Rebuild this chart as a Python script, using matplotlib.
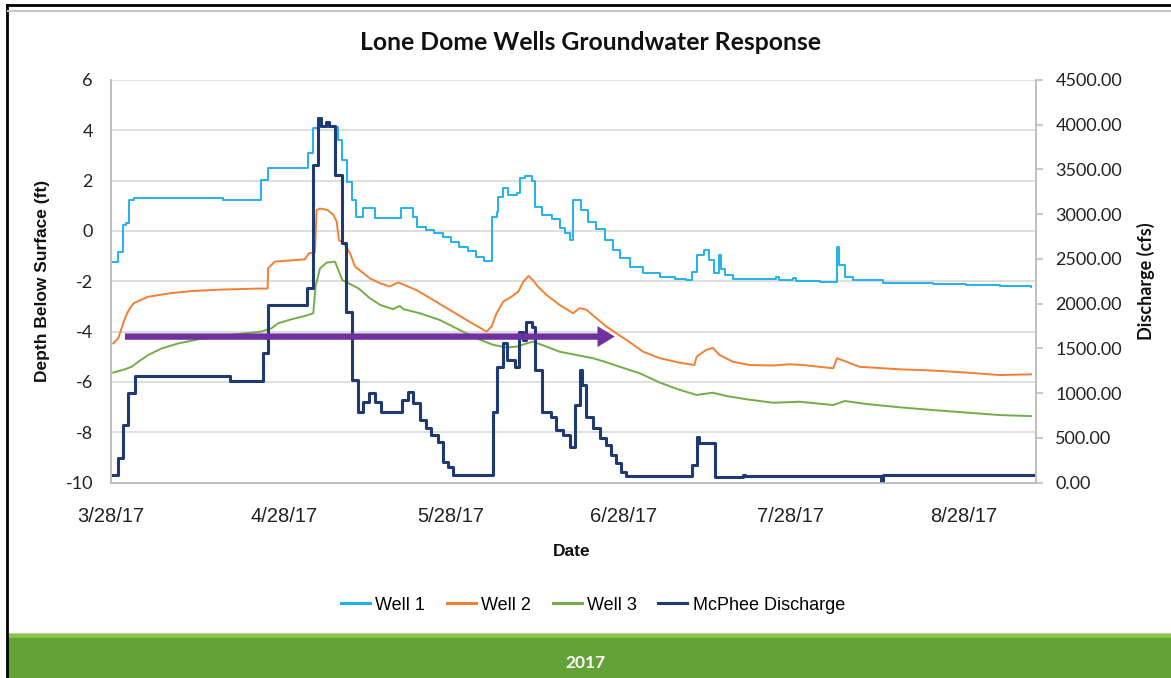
import numpy as np
import pandas as pd
import matplotlib
matplotlib.use("Agg")
import matplotlib.pyplot as plt
import matplotlib.dates as mdates
from matplotlib.lines import Line2D
from matplotlib.patches import Rectangle

# ---- data: days after 3/28/17 ----
start = pd.Timestamp("2017-03-28")

well1_days = [0.4, 1.3, 2.2, 2.7, 3.3, 4.1, 20.1, 27.0, 28.2, 35.4, 36.3, 37.1, 40.8, 41.4,
              42.3, 43.2, 43.9, 45.3, 47.4, 52.1, 54.2, 54.9, 56.5, 58.0, 59.5, 61.0, 62.5,
              64.0, 65.5, 67.0, 68.3, 69.2, 69.5, 70.4, 71.3, 72.8, 73.4, 74.3, 75.5, 76.1,
              77.3, 79.1, 80.5, 81.4, 82.3, 82.9, 84.4, 85.6, 87.0, 88.6, 90.1, 91.3, 93.1,
              95.5, 98.5, 101.2, 103.1, 104.3, 105.2, 106.5, 107.4, 108.3, 109.1, 109.4,
              110.1, 111.6, 119.3, 119.8, 122.4, 123.0, 127.2, 130.3, 130.6, 131.7, 133.1,
              138.5, 147.5, 153.4, 159.5, 165.1]
well1_ft = [-1.22, -0.82, 0.24, 0.30, 1.23, 1.30, 1.23, 2.03, 2.49, 3.09, 4.08, 4.15, 3.62, 2.82,
            1.96, 1.23, 0.57, 0.90, 0.50, 0.90, 0.57, 0.17, 0.05, -0.10, -0.25, -0.45, -0.62,
            -0.80, -1.02, -1.20, 0.57, 0.77, 1.36, 1.70, 1.43, 1.50, 2.10, 2.20, 1.97, 0.97,
            0.64, 0.46, 0.10, -0.10, -0.36, 1.23, 0.83, 0.37, 0.07, -0.36, -0.75, -1.09, -1.42,
            -1.66, -1.82, -1.90, -1.95, -1.62, -0.95, -0.75, -1.15, -1.68, -0.95, -1.50,
            -1.75, -1.92, -1.82, -1.95, -1.86, -1.98, -2.02, -0.65, -1.35, -1.82, -1.95,
            -2.05, -2.11, -2.15, -2.19, -2.24]

well2_days = [0.4, 0.9, 1.3, 1.8, 2.3, 2.9, 3.4, 4.1, 6.6, 10.8, 14.5, 19.9, 26.7, 28.1, 28.2,
              29.4, 34.8, 35.5, 36.6, 36.9, 37.5, 38.9, 39.9, 40.5, 40.9, 41.8, 42.9, 43.8,
              45.3, 46.5, 48.3, 50.0, 51.5, 52.7, 54.8, 57.8, 60.8, 63.8, 67.4, 68.3, 69.2,
              70.4, 71.9, 73.1, 74.0, 74.9, 75.7, 76.6, 78.2, 80.5, 82.9, 84.1, 85.3, 87.1,
              88.9, 90.7, 92.5, 95.5, 98.5, 102.1, 104.7, 105.1, 106.8, 108.0, 109.2, 111.6,
              114.6, 118.8, 121.8, 124.2, 129.6, 130.3, 132.0, 134.3, 141.5, 147.5, 153.5,
              159.5, 165.1]
well2_ft = [-4.47, -4.35, -4.27, -3.94, -3.60, -3.27, -3.07, -2.87, -2.62, -2.47, -2.39, -2.33,
            -2.29, -2.29, -1.48, -1.22, -1.13, -0.89, -0.85, 0.83, 0.89, 0.83, 0.64, 0.37,
            -0.36, -0.50, -0.89, -1.42, -1.68, -1.89, -2.08, -2.21, -2.05, -2.15, -2.35,
            -2.74, -3.14, -3.54, -4.00, -3.80, -3.27, -2.81, -2.61, -2.41, -2.02, -1.79,
            -1.95, -2.21, -2.55, -2.94, -3.27, -3.07, -3.13, -3.47, -3.80, -4.07, -4.33,
            -4.80, -5.06, -5.24, -5.33, -5.00, -4.73, -4.65, -4.93, -5.20, -5.33, -5.35,
            -5.30, -5.33, -5.46, -5.06, -5.20, -5.40, -5.50, -5.55, -5.63, -5.73, -5.70]

well3_days = [0.4, 2.5, 3.7, 4.9, 6.7, 9.1, 12.1, 15.6, 19.9, 24.0, 27.0, 28.8, 30.0, 32.4, 34.8,
              36.3, 36.7, 37.5, 38.7, 40.2, 40.8, 41.5, 42.6, 44.4, 46.5, 48.3, 50.6, 51.8,
              52.5, 55.4, 59.0, 62.6, 65.6, 68.6, 71.0, 72.8, 74.6, 75.7, 78.2, 80.5, 83.5,
              86.5, 88.6, 91.3, 94.9, 98.5, 102.1, 105.1, 108.0, 110.4, 114.0, 118.8, 123.6,
              129.6, 131.7, 135.6, 141.5, 147.5, 153.5, 159.5, 165.1]
well3_ft = [-5.63, -5.50, -5.40, -5.20, -4.93, -4.67, -4.47, -4.31, -4.18, -4.07, -4.00, -3.87,
            -3.67, -3.51, -3.38, -3.27, -2.21, -1.49, -1.26, -1.22, -1.55, -1.95, -2.08,
            -2.28, -2.68, -2.94, -3.11, -2.98, -3.11, -3.27, -3.54, -3.94, -4.27, -4.53,
            -4.63, -4.60, -4.47, -4.40, -4.60, -4.80, -4.93, -5.06, -5.20, -5.40, -5.66,
            -6.03, -6.32, -6.52, -6.43, -6.56, -6.69, -6.83, -6.79, -6.92, -6.76, -6.88,
            -7.01, -7.12, -7.22, -7.32, -7.36]

mcphee_days = [0.4, 1.3, 2.2, 3.1, 4.3, 21.3, 27.3, 28.2, 35.1, 36.3, 37.2, 37.7, 38.6, 39.1,
               40.2, 41.4, 42.2, 43.2, 44.3, 45.3, 46.3, 47.4, 48.4, 52.2, 53.3, 54.2, 55.4,
               56.6, 57.5, 58.7, 59.6, 60.5, 61.4, 68.6, 69.2, 70.4, 71.0, 72.5, 73.2, 74.0,
               74.4, 75.5, 76.1, 77.3, 79.0, 79.9, 81.1, 82.3, 83.2, 84.1, 84.5, 85.3, 86.5,
               87.7, 88.9, 89.8, 90.7, 91.6, 92.5, 104.2, 105.1, 105.5, 108.4, 113.4, 113.7,
               138.1, 138.5, 165.4]
mcphee_cfs = [84, 270, 643, 997, 1190, 1138, 1444, 1984, 2171, 3550, 4072, 3985, 4030, 3985,
              3438, 2674, 1910, 1146, 792, 903, 997, 903, 792, 922, 1015, 885, 699,
              606, 531, 456, 233, 177, 84, 792, 1295, 1556, 1370, 1295, 1686, 1593,
              1798, 1742, 1258, 792, 736, 587, 531, 400, 866, 1258, 1090, 736, 606,
              494, 419, 307, 214, 121, 73, 196, 512, 445, 65, 88, 75,
              10, 80, 80]

tick_days = [0, 31, 61, 92, 122, 153]
tick_labels = ["3/28/17", "4/28/17", "5/28/17", "6/28/17", "7/28/17", "8/28/17"]
left_ticks = [6, 4, 2, 0, -2, -4, -6, -8, -10]
right_ticks = [0, 500, 1000, 1500, 2000, 2500, 3000, 3500, 4000, 4500]

arrow_days = [2.5, 90.4]
arrow_ft = -4.2


def to_dates(days):
    return start + pd.to_timedelta(np.array(days, dtype=float), unit="D")


W, H = 1171, 678


def fx(x):
    return x / W


def fy(y):
    return 1 - y / H


c1, c2, c3, c4 = "#21B1EC", "#F37F34", "#72AE48", "#1F3A72"
calibri = ["Lato", "DejaVu Sans"]
arial = ["Liberation Sans", "DejaVu Sans"]

fig = plt.figure(figsize=(W / 100, H / 100), dpi=100)
ax = fig.add_axes([fx(111), fy(482.5), fx(1036) - fx(111), fy(80) - fy(482.5)])
ax2 = ax.twinx()

ax.plot(to_dates(well1_days), well1_ft, drawstyle="steps-post", color=c1, lw=1.4)
ax.plot(to_dates(well2_days), well2_ft, color=c2, lw=1.4)
ax.plot(to_dates(well3_days), well3_ft, color=c3, lw=1.4)
ax2.plot(to_dates(mcphee_days), mcphee_cfs, drawstyle="steps-post", color=c4, lw=2.2)

ax.set_xlim(to_dates([0])[0], to_dates([166])[0])
ax.set_ylim(-10, 6)
ax2.set_ylim(0, 4500)
ax.set_xticks(to_dates(tick_days))
ax.set_xticklabels(tick_labels, fontfamily=arial, fontsize=14.5)
ax.set_yticks(left_ticks)
ax.set_yticklabels([str(v) for v in left_ticks], fontfamily=calibri, fontsize=13)
ax2.set_yticks(right_ticks)
ax2.set_yticklabels([f"{v:.2f}" for v in right_ticks], fontfamily=calibri, fontsize=13)

ax.grid(axis="y", color="#D9D9D9", lw=1.2)
ax.set_axisbelow(True)
for a in (ax, ax2):
    a.spines["top"].set_visible(False)
    for s in ("left", "right", "bottom"):
        a.spines[s].set_color("#BFBFBF")
        a.spines[s].set_linewidth(1.2)
ax.tick_params(axis="x", length=0, pad=18, colors="#222222")
ax.tick_params(axis="y", length=0, pad=13, colors="#222222")
ax2.tick_params(axis="y", length=5, width=1.2, color="#BFBFBF", pad=9, labelcolor="#222222")

# purple arrow
a0, a1 = mdates.date2num(to_dates(arrow_days))
ax2.annotate("", xy=(a1, arrow_ft), xytext=(a0, arrow_ft),
             xycoords=ax.transData, textcoords=ax.transData,
             arrowprops=dict(arrowstyle="simple,head_length=0.62,head_width=0.75,tail_width=0.23",
                             fc="#7030A0", ec="none", lw=0, mutation_scale=20,
                             shrinkA=0, shrinkB=0))

# texts
fig.text(fx(591), fy(42), "Lone Dome Wells Groundwater Response", ha="center", va="center",
         fontsize=17.8, fontweight="bold", family=calibri, color="#111111")
fig.text(fx(43), fy(281), "Depth Below Surface (ft)", rotation=90, ha="center", va="center",
         fontsize=12.5, fontweight="bold", family=arial, color="#111111")
fig.text(fx(1146), fy(281), "Discharge (cfs)", rotation=90, ha="center", va="center",
         fontsize=13, fontweight="bold", family=calibri, color="#111111")
fig.text(fx(572), fy(551), "Date", ha="center", va="center",
         fontsize=12.5, fontweight="bold", family=arial, color="#111111")

handles = [Line2D([], [], color=c, lw=2.2) for c in (c1, c2, c3, c4)]
fig.legend(handles, ["Well 1", "Well 2", "Well 3", "McPhee Discharge"], ncol=4,
           loc="center", bbox_to_anchor=(fx(593), fy(605)), frameon=False,
           prop={"family": arial, "size": 13}, handlelength=1.6, handletextpad=0.3,
           columnspacing=1.2)

# frame and bottom band
fig.add_artist(Line2D([fx(7), fx(7)], [fy(5), 0], color="black", lw=2))
fig.add_artist(Line2D([fx(7), 1], [fy(5), fy(5)], color="black", lw=2))
fig.add_artist(Line2D([fx(8), 1], [fy(10.5), fy(10.5)], color="#C8C8C8", lw=1.5))
fig.add_artist(Rectangle((fx(8), fy(678)), 1, fy(633) - fy(678), color="#CFCFCF", zorder=-2))
fig.add_artist(Rectangle((fx(8), fy(678)), 1, fy(634) - fy(678), color="#8CC63F", zorder=-1))
fig.add_artist(Rectangle((fx(8), fy(678)), 1, fy(638) - fy(678), color="#62A236", zorder=0))
fig.text(fx(585), fy(663), "2017", ha="center", va="center", color="white",
         fontsize=12.5, fontweight="bold", family=calibri)

fig.savefig("out.png", dpi=100)
